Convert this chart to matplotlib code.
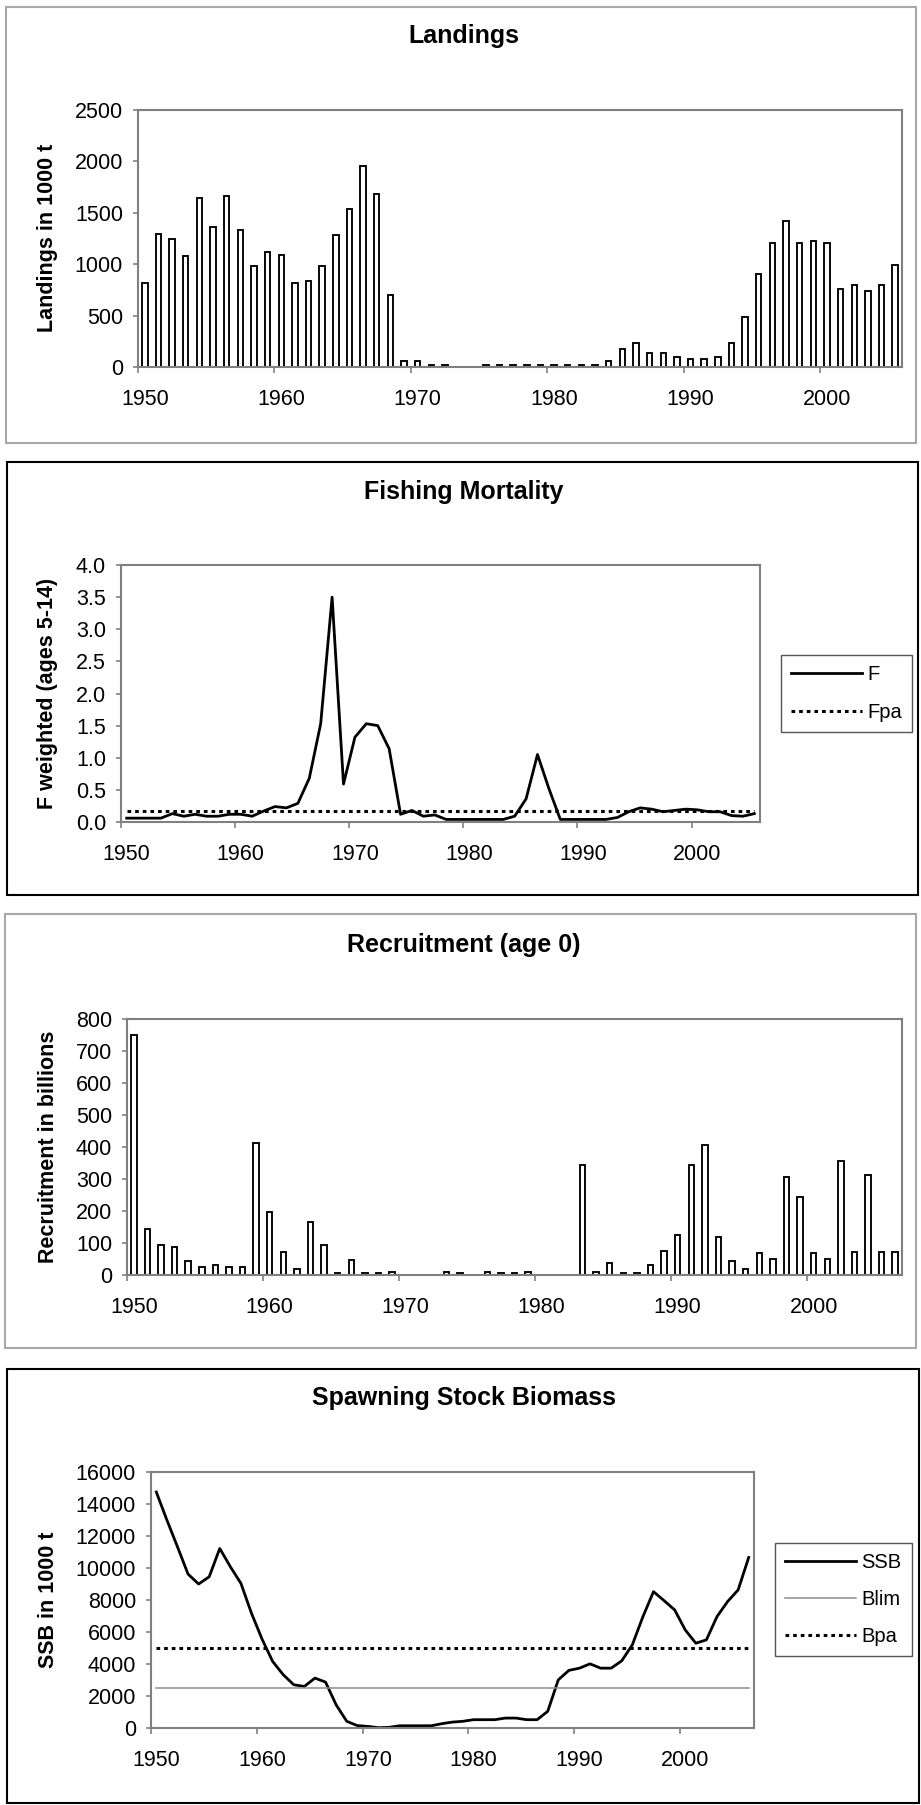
import matplotlib
matplotlib.use("Agg")
import matplotlib.pyplot as plt
import matplotlib.ticker as ticker
from matplotlib.patches import Rectangle
import numpy as np

plt.rcParams['font.family'] = ['Liberation Sans', 'DejaVu Sans']

# ---- data ----
landing_years = np.arange(1950, 2006)
landings = np.array([820, 1290, 1250, 1075, 1640, 1365, 1660, 1330, 980, 1115,
                     1090, 820, 840, 980, 1285, 1540, 1955, 1680, 705, 60,
                     60, 20, 20, 0, 0, 15, 15, 15, 15, 15,
                     15, 15, 15, 15, 60, 175, 230, 135, 135, 95,
                     75, 75, 95, 230, 490, 900, 1210, 1425, 1210, 1230,
                     1210, 760, 800, 740, 800, 995])

f_years = np.arange(1950, 2006)
f_weighted = np.array([0.06, 0.06, 0.06, 0.06, 0.13, 0.09, 0.12, 0.09, 0.09, 0.12,
                       0.12, 0.09, 0.17, 0.24, 0.22, 0.29, 0.68, 1.53, 3.50, 0.59,
                       1.32, 1.53, 1.50, 1.14, 0.12, 0.18, 0.09, 0.11, 0.04, 0.04,
                       0.04, 0.04, 0.04, 0.04, 0.09, 0.36, 1.05, 0.52, 0.04, 0.04,
                       0.04, 0.04, 0.04, 0.07, 0.16, 0.22, 0.20, 0.16, 0.18, 0.20,
                       0.19, 0.16, 0.16, 0.10, 0.09, 0.13])
f_pa = 0.17

rec_years = np.arange(1950, 2007)
recruitment = np.array([750, 143, 94, 86, 44, 24, 31, 24, 24, 411,
                        198, 73, 18, 167, 94, 5, 47, 5, 5, 10,
                        0, 0, 0, 10, 5, 0, 10, 5, 5, 10,
                        0, 0, 0, 344, 10, 36, 5, 5, 31, 75,
                        125, 344, 406, 120, 44, 19, 68, 49, 305, 243,
                        70, 49, 356, 73, 311, 73, 73])

ssb_years = np.arange(1950, 2007)
ssb = np.array([14750, 13000, 11330, 9620, 9000, 9450, 11220, 10080, 9040, 7170,
                5550, 4160, 3330, 2700, 2600, 3120, 2870, 1450, 420, 150,
                100, 20, 40, 140, 140, 140, 140, 270, 370, 420,
                520, 520, 520, 620, 620, 520, 520, 1040, 3010, 3600,
                3740, 4010, 3740, 3740, 4200, 5200, 6960, 8520, 7960, 7380,
                6130, 5300, 5510, 6960, 7900, 8630, 10660])
b_lim = 2500
b_pa = 5000

decade_labels = [1950, 1960, 1970, 1980, 1990, 2000]

# ---- layout (pixels) ----
W, H = 921, 1805
fig = plt.figure(figsize=(W / 100, H / 100), dpi=100, facecolor='white')


def px_box(l, t, r, b):
    return [l / W, 1 - b / H, (r - l) / W, (b - t) / H]


def panel_frame(l, t, r, b, color):
    fig.add_artist(Rectangle((l / W, 1 - b / H), (r - l) / W, (b - t) / H,
                             transform=fig.transFigure, fill=False,
                             edgecolor=color, linewidth=1.5))


GRAY = '#808080'


def style_axes(ax, years, ylabel, ycenter):
    for s in ax.spines.values():
        s.set_color(GRAY)
        s.set_linewidth(1.5)
    ax.set_xlim(years[0] - 0.5, years[-1] + 0.5)
    # tick marks sit between categories, labels sit on the category
    ax.set_xticks([y - 0.5 for y in decade_labels])
    ax.set_xticklabels([])
    ax.set_xticks(decade_labels, minor=True)
    ax.set_xticklabels([str(y) for y in decade_labels], minor=True)
    ax.tick_params(axis='x', which='major', length=4.5, width=1.2, color=GRAY)
    ax.tick_params(axis='x', which='minor', length=0, pad=16, labelsize=15.5)
    ax.tick_params(axis='y', length=3.8, width=1.2, color=GRAY, pad=7, labelsize=15.5)
    fig.text(48 / W, 1 - ycenter / H, ylabel, rotation=90, ha='center',
             va='center', fontsize=15.5, fontweight='bold')


def title(text, ypx):
    fig.text(464 / W, 1 - ypx / H, text, ha='center', va='center',
             fontsize=18, fontweight='bold')


def legend(ax, left, top, spacing):
    leg = ax.legend(loc='upper left', bbox_to_anchor=(left / W, 1 - top / H),
                    bbox_transform=fig.transFigure, borderaxespad=0,
                    fontsize=14.5, handlelength=3.5, handletextpad=0.3,
                    borderpad=0.5, labelspacing=spacing, fancybox=False,
                    edgecolor='#555555', framealpha=1)
    leg.get_frame().set_linewidth(1.0)
    return leg


# ---- Landings ----
panel_frame(6, 7, 916, 443, '#a8a8a8')
ax1 = fig.add_axes(px_box(138, 110, 902, 367))
keep = landings > 0
ax1.bar(landing_years[keep], landings[keep], width=0.4, color='white',
        edgecolor='black', linewidth=1.35)
ax1.set_ylim(0, 2500)
ax1.set_yticks(np.arange(0, 2501, 500))
style_axes(ax1, landing_years, 'Landings in 1000 t', 238)
title('Landings', 36)

# ---- Fishing mortality ----
panel_frame(7, 462, 918, 895, 'black')
ax2 = fig.add_axes(px_box(121, 565, 760, 822))
ax2.plot(f_years, f_weighted, color='black', linewidth=2.0, label='F')
ax2.plot([f_years[0], f_years[-1]], [f_pa, f_pa], color='black',
         linewidth=2.2, linestyle=(0, (1.2, 1.3)), label='Fpa')
ax2.set_ylim(0, 4.0)
ax2.set_yticks(np.arange(0, 4.01, 0.5))
ax2.yaxis.set_major_formatter(ticker.FormatStrFormatter('%.1f'))
style_axes(ax2, f_years, 'F weighted (ages 5-14)', 693)
title('Fishing Mortality', 492)
legend(ax2, 781, 655, 0.95)

# ---- Recruitment ----
panel_frame(5, 914, 916, 1348, '#a8a8a8')
ax3 = fig.add_axes(px_box(127, 1019, 902, 1275))
keep = recruitment > 0
ax3.bar(rec_years[keep], recruitment[keep], width=0.4, color='white',
        edgecolor='black', linewidth=1.35)
ax3.set_ylim(0, 800)
ax3.set_yticks(np.arange(0, 801, 100))
style_axes(ax3, rec_years, 'Recruitment in billions', 1147)
title('Recruitment (age 0)', 945)

# ---- Spawning stock biomass ----
panel_frame(7, 1369, 919, 1803, 'black')
ax4 = fig.add_axes(px_box(151, 1472, 754, 1728))
ax4.plot(ssb_years, ssb, color='black', linewidth=2.0, label='SSB')
ax4.plot([ssb_years[0], ssb_years[-1]], [b_lim, b_lim], color='#8c8c8c',
         linewidth=1.1, label='Blim')
ax4.plot([ssb_years[0], ssb_years[-1]], [b_pa, b_pa], color='black',
         linewidth=2.2, linestyle=(0, (1.2, 1.3)), label='Bpa')
ax4.set_ylim(0, 16000)
ax4.set_yticks(np.arange(0, 16001, 2000))
style_axes(ax4, ssb_years, 'SSB in 1000 t', 1600)
title('Spawning Stock Biomass', 1398)
legend(ax4, 775, 1543, 0.9)

fig.savefig('out.png', dpi=100, facecolor='white')
